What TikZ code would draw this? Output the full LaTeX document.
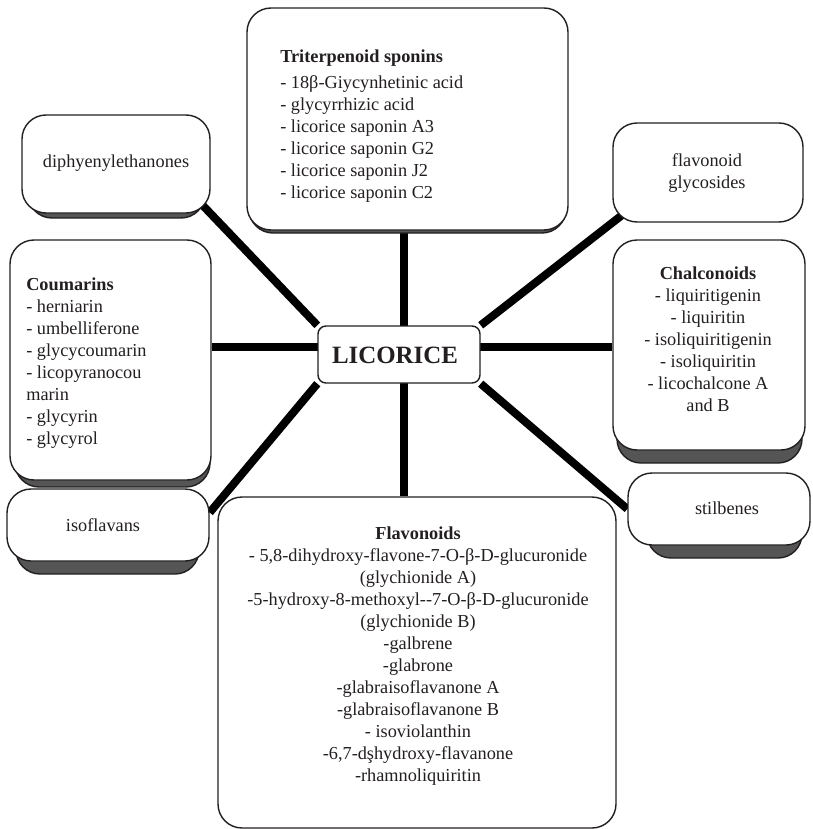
\documentclass[tikz,border=0pt]{standalone}
\usepackage{fontspec}
\setmainfont{Liberation Serif}
\usetikzlibrary{fit,backgrounds}
\definecolor{ink}{HTML}{231F20}
\definecolor{shadegray}{HTML}{555555}
\begin{document}
\begin{tikzpicture}[x=0.025cm,y=-0.025cm,
    box/.style={draw=ink,line width=1pt,fill=white,rounded corners=0.6cm,inner sep=0pt},
    shadowbox/.style={draw=ink,line width=1pt,fill=shadegray,rounded corners=0.6cm,inner sep=0pt},
    txt/.style={text=ink,font=\fontsize{13}{15.6}\selectfont,inner sep=0pt},
    spoke/.style={line width=0.2cm,black}]
    \useasboundingbox (0,0) rectangle (812,829);
    % shadows
    \node[shadowbox,fit={(249,11) (566,233)}] (trit-s) {};
    \node[shadowbox,fit={(28,120) (205,218)}] (diph-s) {};
    \node[shadowbox,fit={(15,250) (210,487)}] (coum-s) {};
    \node[shadowbox,fit={(16,500) (199,574)}] (isof-s) {};
    \node[shadowbox,fit={(617,250) (802,463)}] (chal-s) {};
    \node[shadowbox,fit={(647,485) (802,558)}] (stil-s) {};
    % boxes
    \node[box,fit={(247,8) (568,230)}] (trit) {};
    \node[box,fit={(22,115) (210,213)}] (diph) {};
    \node[box,fit={(10,240) (211,480)}] (coum) {};
    \node[box,fit={(7,489) (209,561)}] (isof) {};
    \node[box,fit={(613,123) (803,222)}] (glyc) {};
    \node[box,fit={(613,240) (805,450)}] (chal) {};
    \node[box,fit={(628,473) (810,545)}] (stil) {};
    \node[box,fit={(218,497) (616,828)}] (flav) {};
    \node[box,rounded corners=0.2cm,fit={(318,326) (480,383)}] (lic) {};
    % texts
    \node[txt,font=\fontsize{17.7}{22}\selectfont\bfseries] (lic-t) at (395,355) {LICORICE};
    \node[txt,align=left,anchor=west] (trit-t) at (280,126) {\textbf{Triterpenoid sponins}\\[3.5pt]
        - 18β-Giycynhetinic acid\\
        - glycyrrhizic acid\\
        - licorice saponin A3\\
        - licorice saponin G2\\
        - licorice saponin J2\\
        - licorice saponin C2};
    \node[txt] (diph-t) at (116,163) {diphyenylethanones};
    \node[txt,align=left,anchor=west] (coum-t) at (26,363) {\textbf{Coumarins}\\
        - herniarin\\
        - umbelliferone\\
        - glycycoumarin\\
        - licopyranocou\\
        marin\\
        - glycyrin\\
        - glycyrol};
    \node[txt] (isof-t) at (103,525) {isoflavans};
    \node[txt,align=center] (glyc-t) at (707,173) {flavonoid\\ glycosides};
    \node[txt,align=center] (chal-t) at (708,339) {\textbf{Chalconoids}\\
        - liquiritigenin\\
        - liquiritin\\
        - isoliquiritigenin\\
        - isoliquiritin\\
        - licochalcone A\\
        and B};
    \node[txt] (stil-t) at (727,508) {stilbenes};
    \node[txt,align=center] (flav-t) at (418,656) {\textbf{Flavonoids}\\
        - 5,8-dihydroxy-flavone-7-O-β-D-glucuronide\\
        (glychionide A)\\
        -5-hydroxy-8-methoxyl-{}-7-O-β-D-glucuronide\\
        (glychionide B)\\
        -galbrene\\
        -glabrone\\
        -glabraisoflavanone A\\
        -glabraisoflavanone B\\
        - isoviolanthin\\
        -6,7-dşhydroxy-flavanone\\
        -rhamnoliquiritin};
    % spokes
    \coordinate (hub) at (404,347);
    \begin{scope}[on background layer]
        \draw[spoke] (hub) -- (hub |- trit.south);
        \draw[spoke] (hub) -- (hub |- flav.north);
        \draw[spoke] (hub) -- (hub -| coum.east);
        \draw[spoke] (hub) -- (hub -| chal.west);
        \draw[spoke,shorten >=-0.3cm] (lic.north west) -- (diph.south east);
        \draw[spoke,shorten >=-0.3cm] (lic.north east) -- (glyc.south west);
        \draw[spoke] (lic.south west) -- (isof.7);
        \draw[spoke] (lic.south east) -- (stil.west);
    \end{scope}
\end{tikzpicture}
\end{document}
